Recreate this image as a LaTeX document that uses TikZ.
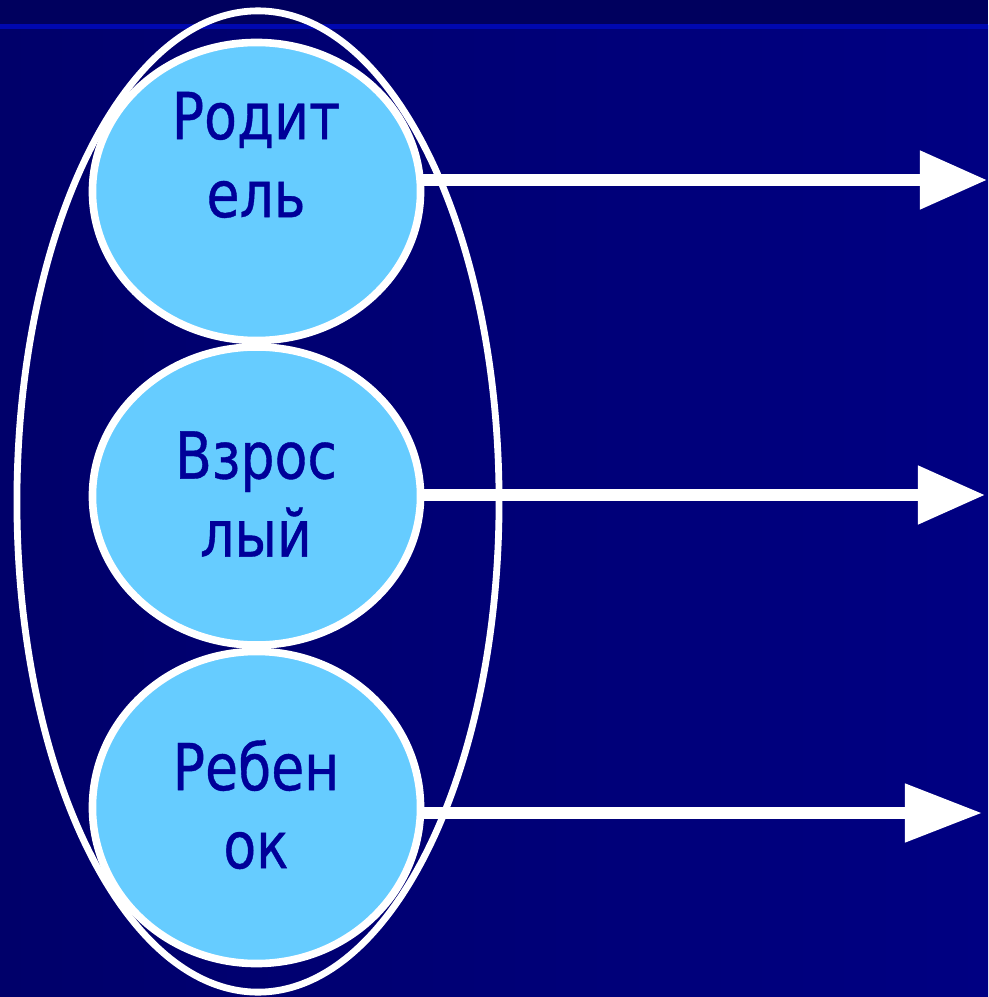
\documentclass[tikz,border=0pt]{standalone}
\usepackage{fontspec}
\setmainfont[FakeStretch=0.83,FakeBold=0.6]{DejaVu Sans}
\usetikzlibrary{shapes.geometric,arrows.meta}
\definecolor{bgtop}{HTML}{00005E}
\definecolor{bgleft}{HTML}{00006A}
\definecolor{bgright}{HTML}{000082}
\definecolor{bgline}{HTML}{0008B0}
\definecolor{rolefill}{HTML}{66CCFF}
\definecolor{roletext}{HTML}{000099}

\begin{document}
\begin{tikzpicture}[x=0.025cm, y=-0.025cm,
role/.style={shape=ellipse, draw=white, line width=0.19cm, fill=rolefill, minimum width=8.2cm, minimum height=7.45cm, inner sep=0pt, outer sep=0pt},
word/.style={align=center, text=roletext, font=\fontsize{46}{55.5}\selectfont, inner sep=0pt},
outarrow/.style={draw=white, line width=0.28cm, -{Triangle[length=1.675cm, width=1.4cm]}}]
\useasboundingbox (0,0) rectangle (988,997);
\shade[left color=bgleft, right color=bgright] (0,26) rectangle (988,997);
\fill[bgtop] (0,0) rectangle (988,25);
\fill[bgline] (0,24) rectangle (988,29);
% three roles
\node[role] (1) at (256.5,191.5) {};
\node[role] (2) at (256.5,496) {};
\node[role, minimum height=7.8cm] (3) at (256.5,807.5) {};
\node[word] (5) at (256,155) {Родит\\ель};
\node[word] (6) at (256,494) {Взрос\\лый};
\node[word] (7) at (256,804.5) {Ребен\\ок};
\node[shape=ellipse, draw=white, line width=0.17cm, minimum width=12.05cm, minimum height=24.525cm, inner sep=0pt] (4) at (258,501.5) {};
% arrows
\coordinate (8) at (987,180);
\coordinate (9) at (985,495);
\coordinate (10) at (982,813);
\draw[outarrow] (1.east |- 8) -- (8);
\draw[outarrow] (2.east |- 9) -- (9);
\draw[outarrow, -{Triangle[length=1.925cm, width=1.4cm]}] (3.east |- 10) -- (10);
\end{tikzpicture}
\end{document}
